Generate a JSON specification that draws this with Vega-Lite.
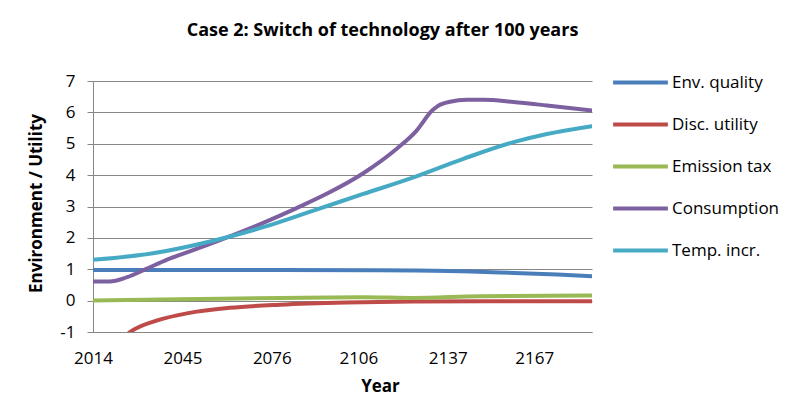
{
  "$schema": "https://vega.github.io/schema/vega-lite/v6.json",
  "width": 499,
  "height": 251,
  "autosize": {"type": "none"},
  "padding": {"left": 93, "top": 81, "right": 212, "bottom": 77},
  "background": "white",
  "title": {
    "text": "Case 2: Switch of technology after 100 years",
    "font": "Open Sans",
    "fontSize": 18,
    "fontWeight": "bold",
    "color": "black",
    "anchor": "middle",
    "dx": 40,
    "offset": 13
  },
  "data": {
    "values": [
      {"year": 2014, "series": "Env. quality", "value": 0.98},
      {"year": 2040, "series": "Env. quality", "value": 0.98},
      {"year": 2079, "series": "Env. quality", "value": 0.98},
      {"year": 2110, "series": "Env. quality", "value": 0.97},
      {"year": 2125, "series": "Env. quality", "value": 0.96},
      {"year": 2145, "series": "Env. quality", "value": 0.93},
      {"year": 2160, "series": "Env. quality", "value": 0.88},
      {"year": 2175, "series": "Env. quality", "value": 0.83},
      {"year": 2187, "series": "Env. quality", "value": 0.78},

      {"year": 2014, "series": "Disc. utility", "value": -2.4},
      {"year": 2020, "series": "Disc. utility", "value": -1.6},
      {"year": 2026.7, "series": "Disc. utility", "value": -1.01},
      {"year": 2036, "series": "Disc. utility", "value": -0.64},
      {"year": 2047.5, "series": "Disc. utility", "value": -0.39},
      {"year": 2061.4, "series": "Disc. utility", "value": -0.23},
      {"year": 2078.8, "series": "Disc. utility", "value": -0.13},
      {"year": 2101.9, "series": "Disc. utility", "value": -0.06},
      {"year": 2125, "series": "Disc. utility", "value": -0.03},
      {"year": 2150, "series": "Disc. utility", "value": -0.02},
      {"year": 2187, "series": "Disc. utility", "value": -0.02},

      {"year": 2014, "series": "Emission tax", "value": 0.0},
      {"year": 2044, "series": "Emission tax", "value": 0.04},
      {"year": 2079, "series": "Emission tax", "value": 0.085},
      {"year": 2108, "series": "Emission tax", "value": 0.11},
      {"year": 2125, "series": "Emission tax", "value": 0.085},
      {"year": 2148, "series": "Emission tax", "value": 0.14},
      {"year": 2187, "series": "Emission tax", "value": 0.16},

      {"year": 2014, "series": "Consumption", "value": 0.61},
      {"year": 2019.8, "series": "Consumption", "value": 0.61},
      {"year": 2025.6, "series": "Consumption", "value": 0.74},
      {"year": 2032.5, "series": "Consumption", "value": 1.01},
      {"year": 2039.5, "series": "Consumption", "value": 1.3},
      {"year": 2049.9, "series": "Consumption", "value": 1.65},
      {"year": 2061.4, "series": "Consumption", "value": 2.05},
      {"year": 2073, "series": "Consumption", "value": 2.48},
      {"year": 2084.6, "series": "Consumption", "value": 2.95},
      {"year": 2096.2, "series": "Consumption", "value": 3.46},
      {"year": 2107.7, "series": "Consumption", "value": 4.06},
      {"year": 2119.3, "series": "Consumption", "value": 4.84},
      {"year": 2126.2, "series": "Consumption", "value": 5.42},
      {"year": 2131.5, "series": "Consumption", "value": 6.05},
      {"year": 2133.5, "series": "Consumption", "value": 6.2},
      {"year": 2137.8, "series": "Consumption", "value": 6.34},
      {"year": 2143.6, "series": "Consumption", "value": 6.4},
      {"year": 2149.4, "series": "Consumption", "value": 6.4},
      {"year": 2159.8, "series": "Consumption", "value": 6.33},
      {"year": 2171.4, "series": "Consumption", "value": 6.22},
      {"year": 2187, "series": "Consumption", "value": 6.06},

      {"year": 2014, "series": "Temp. incr.", "value": 1.3},
      {"year": 2034.8, "series": "Temp. incr.", "value": 1.51},
      {"year": 2055.7, "series": "Temp. incr.", "value": 1.91},
      {"year": 2073, "series": "Temp. incr.", "value": 2.34},
      {"year": 2090.4, "series": "Temp. incr.", "value": 2.87},
      {"year": 2107.7, "series": "Temp. incr.", "value": 3.4},
      {"year": 2125.1, "series": "Temp. incr.", "value": 3.93},
      {"year": 2142.4, "series": "Temp. incr.", "value": 4.52},
      {"year": 2159.8, "series": "Temp. incr.", "value": 5.05},
      {"year": 2171.4, "series": "Temp. incr.", "value": 5.31},
      {"year": 2187, "series": "Temp. incr.", "value": 5.56}
    ]
  },
  "mark": {"type": "line", "strokeWidth": 4, "clip": true, "interpolate": "monotone", "strokeCap": "round"},
  "encoding": {
    "x": {
      "field": "year",
      "type": "quantitative",
      "scale": {"domain": [2014, 2187], "nice": false, "zero": false},
      "axis": {
        "values": [2014, 2045, 2076, 2106, 2137, 2167],
        "format": "d",
        "grid": false,
        "ticks": false,
        "labelPadding": 18,
        "labelFlush": false,
        "title": "Year",
        "titleX": 287,
        "titleY": 46,
        "titleFontWeight": "bold"
      }
    },
    "y": {
      "field": "value",
      "type": "quantitative",
      "scale": {"domain": [-1, 7], "nice": false, "zero": false},
      "axis": {
        "values": [-1, 0, 1, 2, 3, 4, 5, 6, 7],
        "labelExpr": "datum.value < 0 ? '-' + abs(datum.value) : '' + datum.value",
        "tickSize": 6,
        "labelPadding": 12,
        "title": "Environment / Utility",
        "titleFontWeight": "bold",
        "titleX": -48,
        "titleY": 122
      }
    },
    "color": {
      "field": "series",
      "type": "nominal",
      "scale": {
        "domain": ["Env. quality", "Disc. utility", "Emission tax", "Consumption", "Temp. incr."],
        "range": ["#4A7EBB", "#BE4B48", "#98B954", "#7D60A0", "#46AAC5"]
      },
      "legend": {
        "orient": "none",
        "legendX": 518,
        "legendY": -28,
        "title": null,
        "symbolType": "stroke",
        "symbolStrokeWidth": 4,
        "symbolSize": 3000,
        "labelOffset": 2,
        "rowPadding": 4
      }
    }
  },
  "config": {
    "view": {"stroke": null},
    "font": "Open Sans",
    "axis": {
      "domainColor": "#868686",
      "gridColor": "#868686",
      "tickColor": "#868686",
      "labelColor": "black",
      "titleColor": "black",
      "labelFont": "Open Sans",
      "titleFont": "Open Sans",
      "labelFontSize": 17,
      "titleFontSize": 17
    },
    "legend": {"labelFont": "Open Sans", "labelFontSize": 17, "labelColor": "black"}
  }
}
